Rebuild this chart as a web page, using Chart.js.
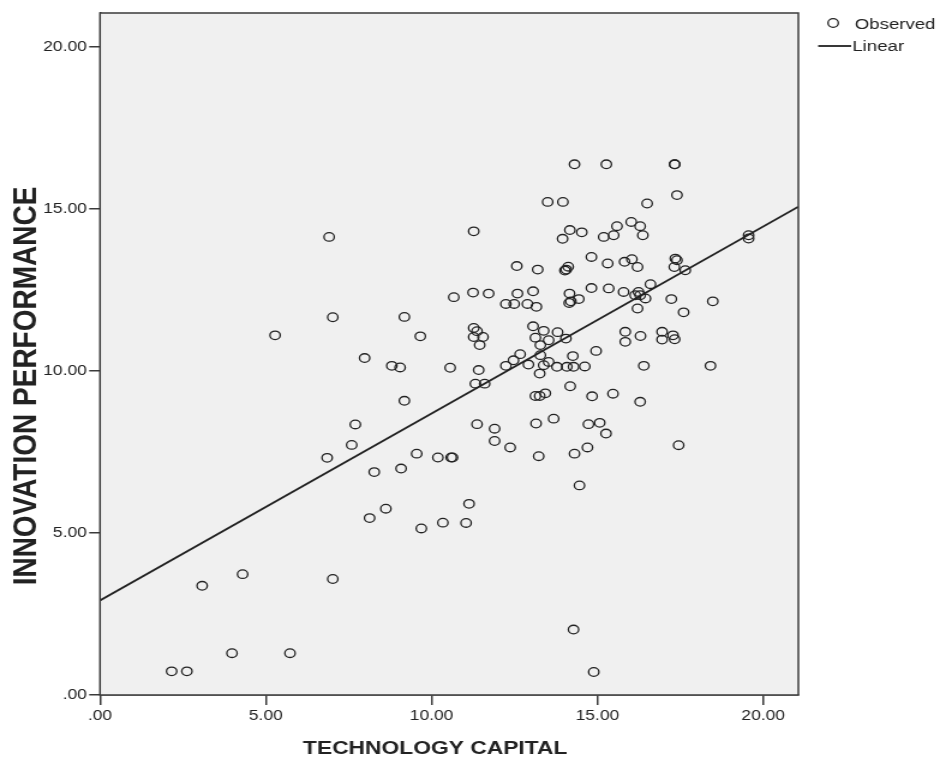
<html><head>
<meta charset="UTF-8">
<title>Innovation performance vs technology capital</title>
<script src="https://cdn.jsdelivr.net/npm/chart.js"></script>
<style>
body {
  margin: 0;
  background: #ffffff;
}
</style>
</head>
<body>
<!-- the reference is stretched sideways, so the canvas is drawn narrow and shown wide -->
<canvas id="chart" width="783" height="764" style="width:940px;height:764px;display:block;"></canvas>

<script>
// observed cases
const techCapital = [
  6.91, 7.02, 5.28, 6.85, 7.59, 7.70, 3.08, 4.30, 7.02, 3.98, 5.73, 2.16, 2.62,
  14.31, 13.50, 13.96, 11.27, 14.17, 14.53, 13.95, 14.82, 14.12, 14.06, 14.02,
  12.57, 13.20, 14.82, 10.67, 11.25, 11.72, 12.59, 13.06,
  12.24, 12.49, 12.89, 13.16, 14.16, 14.15, 14.20, 14.44,
  9.18, 9.66, 11.27, 11.37, 11.27, 11.55, 11.45,
  13.06, 13.38, 13.80, 13.13, 13.53, 14.05, 13.28,
  7.98, 8.80, 9.05, 10.56, 11.42, 12.24, 12.47, 12.67, 12.92,
  13.28, 13.38, 13.53, 13.26, 13.78, 14.08, 14.26, 14.28, 14.62,
  11.32, 11.60, 9.18, 14.18, 13.13, 13.26, 13.43,
  11.37, 11.90, 11.90, 12.37, 13.15, 13.68, 13.23, 14.31, 14.46,
  9.55, 9.08, 8.27, 10.19, 10.59, 10.63,
  11.13, 8.62, 8.13, 10.34, 11.04, 9.69,
  14.28, 14.89,
  15.84, 15.84, 16.30, 16.95, 16.95, 17.28, 17.33,
  14.96, 16.40, 18.41, 14.84, 15.47, 16.29,
  14.73, 15.07, 15.26, 14.70, 17.45,
  15.27, 17.33, 17.33, 17.40, 16.50, 16.02, 15.59, 16.29,
  15.19, 15.49, 16.37, 19.56, 19.56,
  15.31, 15.82, 16.04, 16.21, 17.35, 17.40, 17.32, 17.65,
  15.34, 15.79, 16.24, 16.29, 16.14, 16.45, 16.60, 16.21, 17.23, 17.60, 18.48
];
const innovation = [
  14.14, 11.66, 11.10, 7.32, 7.72, 8.35, 3.37, 3.73, 3.58, 1.29, 1.29, 0.73, 0.73,
  16.38, 15.22, 15.22, 14.31, 14.35, 14.28, 14.08, 13.52, 13.22, 13.13, 13.10,
  13.24, 13.13, 12.56, 12.28, 12.42, 12.39, 12.39, 12.46,
  12.07, 12.07, 12.07, 11.98, 12.39, 12.10, 12.15, 12.22,
  11.67, 11.07, 11.33, 11.23, 11.05, 11.05, 10.80,
  11.38, 11.24, 11.20, 11.03, 10.95, 11.00, 10.80,
  10.40, 10.16, 10.11, 10.10, 10.03, 10.16, 10.33, 10.52, 10.20,
  10.49, 10.18, 10.28, 9.92, 10.13, 10.13, 10.46, 10.13, 10.14,
  9.61, 9.61, 9.08, 9.53, 9.23, 9.23, 9.31,
  8.36, 8.22, 7.84, 7.64, 8.38, 8.53, 7.37, 7.45, 6.47,
  7.45, 6.99, 6.88, 7.33, 7.33, 7.33,
  5.90, 5.75, 5.46, 5.32, 5.31, 5.14,
  2.02, 0.71,
  11.21, 10.90, 11.08, 11.21, 10.97, 11.10, 10.98,
  10.62, 10.16, 10.16, 9.22, 9.30, 9.05,
  8.36, 8.40, 8.07, 7.64, 7.71,
  16.38, 16.38, 16.38, 15.43, 15.17, 14.60, 14.47, 14.47,
  14.14, 14.19, 14.19, 14.19, 14.09,
  13.32, 13.37, 13.45, 13.21, 13.47, 13.42, 13.21, 13.11,
  12.55, 12.44, 12.44, 12.34, 12.34, 12.24, 12.68, 11.93, 12.22, 11.81, 12.15
];

// linear fit line, ends read at the plot edges
const fitX = [0, 21.06];
const fitY = [2.92, 15.07];

const axisMax = { x: 21.06, y: 21.05 };
const tickStep = 5;

const observed = techCapital.map((x, i) => ({ x: x, y: innovation[i] }));
const linear = fitX.map((x, i) => ({ x: x, y: fitY[i] }));

const ink = '#222222';
const frame = '#3a3a3a';
const tickFont = { family: '"Liberation Sans", Arial, sans-serif', size: 14.5 };

const formatTick = (v) => v === 0 ? '.00' : v.toFixed(2);

// plot background, frame, axis titles and the little legend
const spssLook = {
  id: 'spssLook',
  beforeDatasetsDraw(chart) {
    const { ctx, chartArea: a } = chart;
    ctx.save();
    ctx.fillStyle = '#f0f0f0';
    ctx.fillRect(a.left, a.top, a.right - a.left, a.bottom - a.top);
    ctx.restore();
  },
  afterDraw(chart) {
    const { ctx, chartArea: a } = chart;
    ctx.save();
    ctx.strokeStyle = frame;
    ctx.lineWidth = 1.5;
    ctx.strokeRect(a.left, a.top, a.right - a.left, a.bottom - a.top);

    ctx.fillStyle = ink;
    ctx.font = 'bold 19px "Liberation Sans", Arial, sans-serif';
    ctx.textAlign = 'center';
    ctx.textBaseline = 'middle';
    ctx.fillText('TECHNOLOGY CAPITAL', 362.5, 749);

    ctx.save();
    ctx.translate(22.5, 386);
    ctx.rotate(-Math.PI / 2);
    ctx.font = 'bold 28px "Liberation Sans", Arial, sans-serif';
    ctx.fillText('INNOVATION PERFORMANCE', 0, 0);
    ctx.restore();

    // legend
    const ds = chart.data.datasets;
    ctx.font = '15.5px "Liberation Sans", Arial, sans-serif';
    ctx.textAlign = 'left';
    ctx.strokeStyle = ink;
    ctx.lineWidth = 1.3;
    ctx.beginPath();
    ctx.arc(694, 23, 4.3, 0, Math.PI * 2);
    ctx.stroke();
    ctx.fillText(ds[0].label, 712, 25);
    ctx.lineWidth = 1.8;
    ctx.beginPath();
    ctx.moveTo(681.5, 46);
    ctx.lineTo(709, 46);
    ctx.stroke();
    ctx.fillText(ds[1].label, 710, 47);
    ctx.restore();
  }
};

new Chart(document.getElementById('chart'), {
  type: 'scatter',
  data: {
    datasets: [
      {
        label: 'Observed',
        data: observed,
        pointStyle: 'circle',
        pointRadius: 4.3,
        pointBorderWidth: 1.3,
        borderColor: ink,
        backgroundColor: 'rgba(0,0,0,0)'
      },
      {
        type: 'line',
        label: 'Linear',
        data: linear,
        showLine: true,
        pointRadius: 0,
        borderColor: ink,
        borderWidth: 1.8,
        fill: false
      }
    ]
  },
  options: {
    responsive: false,
    animation: false,
    devicePixelRatio: 1,
    layout: { padding: { top: 13, right: 118, left: 0, bottom: 0 } },
    plugins: {
      legend: { display: false },
      tooltip: { enabled: false }
    },
    scales: {
      x: {
        type: 'linear',
        min: 0,
        max: axisMax.x,
        ticks: { stepSize: tickStep, includeBounds: false, callback: formatTick, font: tickFont, color: ink, padding: 2, maxRotation: 0 },
        grid: { drawOnChartArea: false, tickLength: 10, color: frame, lineWidth: 1.5 },
        border: { color: frame, width: 1.5 },
        afterFit: (s) => { s.height = 69; }
      },
      y: {
        type: 'linear',
        min: 0,
        max: axisMax.y,
        ticks: { stepSize: tickStep, includeBounds: false, callback: formatTick, font: tickFont, color: ink, padding: 2 },
        grid: { drawOnChartArea: false, tickLength: 9, color: frame, lineWidth: 1.5 },
        border: { color: frame, width: 1.5 },
        afterFit: (s) => { s.width = 83.3; }
      }
    }
  },
  plugins: [spssLook]
});
</script>
</body></html>
